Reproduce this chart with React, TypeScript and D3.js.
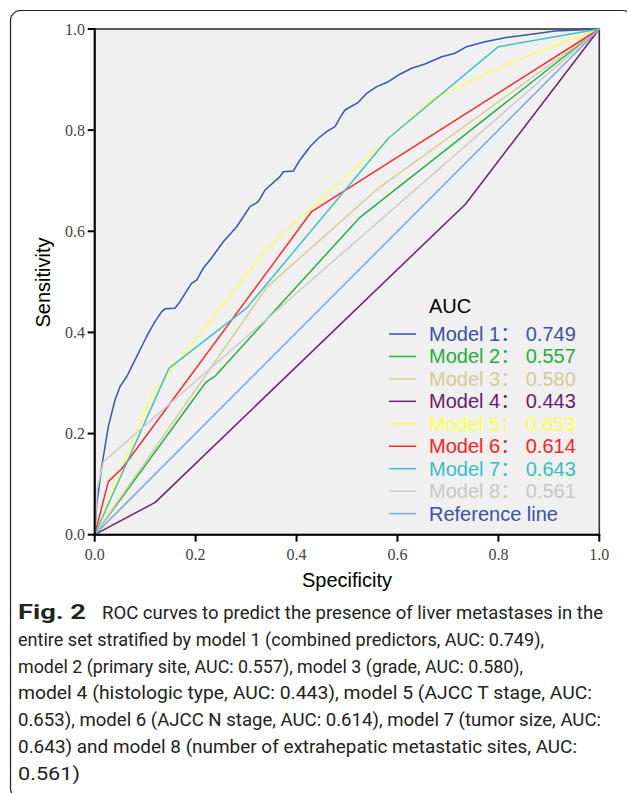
import React from 'react';
import * as d3 from 'd3';

type Pt = [number, number];

const xTicks = [0, 0.2, 0.4, 0.6, 0.8, 1.0];
const yTicks = [0, 0.2, 0.4, 0.6, 0.8, 1.0];

const modelNames = ['Model 1', 'Model 2', 'Model 3', 'Model 4', 'Model 5', 'Model 6', 'Model 7', 'Model 8'];
const aucValues = ['0.749', '0.557', '0.580', '0.443', '0.653', '0.614', '0.643', '0.561'];

const model1: Pt[] = [
  [0, 0], [0.004, 0.06], [0.0139, 0.1345], [0.027, 0.2136], [0.0402, 0.2664], [0.0501, 0.2927],
  [0.0634, 0.3124], [0.0733, 0.3322], [0.0832, 0.352], [0.0963, 0.3785], [0.1062, 0.398],
  [0.1195, 0.4212], [0.1328, 0.441], [0.14, 0.447], [0.159, 0.4477], [0.169, 0.4608],
  [0.1855, 0.4872], [0.192, 0.497], [0.202, 0.5036], [0.215, 0.5268], [0.2285, 0.5432],
  [0.2549, 0.5794], [0.2814, 0.609], [0.3078, 0.6486], [0.3242, 0.6585], [0.3375, 0.6816],
  [0.3672, 0.708], [0.3738, 0.7178], [0.3936, 0.7192], [0.4069, 0.741], [0.4267, 0.7673],
  [0.4431, 0.7839], [0.4597, 0.7969], [0.4762, 0.8068], [0.4895, 0.83], [0.496, 0.8398],
  [0.5224, 0.855], [0.539, 0.8728], [0.5589, 0.886], [0.582, 0.8958], [0.6017, 0.909],
  [0.6282, 0.9223], [0.6546, 0.9308], [0.6877, 0.9452], [0.7141, 0.952], [0.7372, 0.965],
  [0.7735, 0.9749], [0.8131, 0.9828], [0.866, 0.9895], [0.912, 0.996], [0.958, 0.998], [1, 1],
];
const model2: Pt[] = [[0, 0], [0.22, 0.301], [0.238, 0.313], [0.524, 0.626], [1, 1]];
const model3: Pt[] = [[0, 0], [0.341, 0.489], [0.562, 0.685], [1, 1]];
const model4: Pt[] = [[0, 0], [0.12, 0.064], [0.735, 0.654], [1, 1]];
const model5: Pt[] = [[0, 0], [0.113, 0.276], [0.347, 0.573], [0.668, 0.86], [0.82, 0.932], [1, 1]];
const model6: Pt[] = [[0, 0], [0.027, 0.105], [0.055, 0.132], [0.43, 0.639], [1, 1]];
const model7: Pt[] = [[0, 0], [0.147, 0.329], [0.301, 0.448], [0.582, 0.784], [0.8, 0.965], [1, 1]];
const model8: Pt[] = [[0, 0], [0.005, 0.09], [0.017, 0.144], [1, 1]];
const referenceLine: Pt[] = [[0, 0], [1, 1]];

const curveColors = ['#3a55ad', '#22b14c', '#d7cd98', '#6b2272', '#ffff55', '#ff2a2a', '#3ec3c3', '#cdcdcd'];
const textColors = ['#3a51a8', '#1fae3e', '#d5cb93', '#6a1b71', '#ffff55', '#ff2020', '#35c0c0', '#c8c8c8'];
const refColor = '#7aa8da';
const refTextColor = '#3a51a8';

const captionBold = 'Fig. 2';
const captionLines = [
  'ROC curves to predict the presence of liver metastases in the',
  'entire set stratified by model 1 (combined predictors, AUC: 0.749),',
  'model 2 (primary site, AUC: 0.557), model 3 (grade, AUC: 0.580),',
  'model 4 (histologic type, AUC: 0.443), model 5 (AJCC T stage, AUC:',
  '0.653), model 6 (AJCC N stage, AUC: 0.614), model 7 (tumor size, AUC:',
  '0.643) and model 8 (number of extrahepatic metastatic sites, AUC:',
  '0.561)',
];
const captionWidths = [501, 526, 505, 574, 583, 559, 62];

export default function App() {
  const W = 627;
  const H = 793;
  const x = d3.scaleLinear().domain([0, 1]).range([94.7, 599.3]);
  const y = d3.scaleLinear().domain([0, 1]).range([534.7, 29]);
  const line = d3.line<Pt>().x((d) => x(d[0])).y((d) => y(d[1]));
  const models = [model1, model2, model3, model4, model5, model6, model7, model8];
  const sans = 'Liberation Sans, Arial, Noto Sans CJK SC, sans-serif';
  const serif = 'Liberation Serif, Times New Roman, serif';
  const capFont = 'Liberation Sans Narrow, Roboto, Liberation Sans, sans-serif';

  const legX = 429;
  const legY0 = 341;
  const legDy = 22.45;
  const capY0 = 619;
  const capDy = 26.8;

  return (
    <svg width={W} height={H} style={{ position: 'absolute', left: 0, top: 0, display: 'block', background: '#fff' }}>
      <rect x={10.5} y={10.5} width={622} height={788} rx={10} fill="none" stroke="#222" strokeWidth={1.2} />
      <rect x={x(0)} y={y(1)} width={x(1) - x(0)} height={y(0) - y(1)} fill="#f0f0f0" stroke="#333" strokeWidth={1.6} />
      <g fill="none" strokeWidth={1.5} strokeLinejoin="round">
        {models.map((m, i) => (
          <path key={i} d={line(m) || ''} stroke={curveColors[i]} />
        ))}
        <path d={line(referenceLine) || ''} stroke={refColor} />
      </g>
      <line x1={x(0)} x2={x(0)} y1={y(1) - 1} y2={y(0) + 1} stroke="#000" strokeWidth={2} />
      <line x1={x(0) - 1} x2={x(1) + 1} y1={y(0)} y2={y(0)} stroke="#000" strokeWidth={2} />
      {yTicks.map((t) => (
        <g key={'y' + t}>
          <line x1={x(0) - 7} x2={x(0)} y1={y(t)} y2={y(t)} stroke="#000" strokeWidth={2} />
          <text x={85} y={y(t) + 5.5} textAnchor="end" fontFamily={serif} fontSize={16} fill="#444">
            {t.toFixed(1)}
          </text>
        </g>
      ))}
      {xTicks.map((t) => (
        <g key={'x' + t}>
          <line x1={x(t)} x2={x(t)} y1={y(0)} y2={y(0) + 7} stroke="#000" strokeWidth={2} />
          <text x={x(t)} y={560} textAnchor="middle" fontFamily={serif} fontSize={16} fill="#444">
            {t.toFixed(1)}
          </text>
        </g>
      ))}
      <text x={347} y={587} textAnchor="middle" fontFamily={sans} fontSize={20} fill="#000">
        Specificity
      </text>
      <text transform="translate(50,282.5) rotate(-90)" textAnchor="middle" fontFamily={sans} fontSize={20} fill="#000">
        Sensitivity
      </text>
      <text x={legX} y={313} fontFamily={sans} fontSize={20} fill="#000">AUC</text>
      {modelNames.map((n, i) => (
        <g key={n}>
          <line x1={389} x2={416} y1={legY0 + i * legDy - 7} y2={legY0 + i * legDy - 7} stroke={curveColors[i]} strokeWidth={1.5} />
          <text x={legX} y={legY0 + i * legDy} fontFamily={sans} fontSize={20} fill={textColors[i]}>
            {n + '： ' + aucValues[i]}
          </text>
        </g>
      ))}
      <line x1={389} x2={416} y1={legY0 + 8 * legDy - 7} y2={legY0 + 8 * legDy - 7} stroke={refColor} strokeWidth={1.5} />
      <text x={legX} y={legY0 + 8 * legDy} fontFamily={sans} fontSize={20} fill={refTextColor}>
        Reference line
      </text>
      <text x={18} y={capY0} fontFamily={capFont} fontWeight="bold" fontSize={21} fill="#222" textLength={68} lengthAdjust="spacingAndGlyphs">
        {captionBold}
      </text>
      {captionLines.map((l, i) => (
        <text
          key={i}
          x={i === 0 ? 102 : 18}
          y={capY0 + i * capDy}
          fontFamily={capFont}
          fontSize={19}
          fill="#222"
          textLength={captionWidths[i]}
          lengthAdjust="spacingAndGlyphs"
        >
          {l}
        </text>
      ))}
    </svg>
  );
}
